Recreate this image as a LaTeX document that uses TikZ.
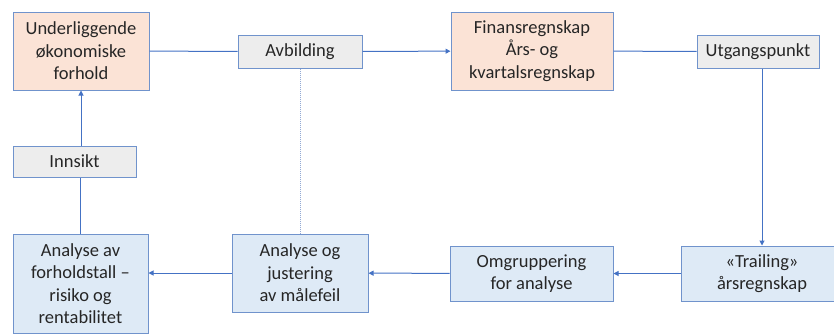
\documentclass[tikz,border=0pt]{standalone}
\usepackage{fontspec}
\setmainfont{Carlito}
\usetikzlibrary{arrows.meta}
\definecolor{lineblue}{HTML}{4472C4}
\definecolor{boxline}{HTML}{7093CC}
\definecolor{orfill}{HTML}{FBE3D6}
\definecolor{grfill}{HTML}{EDEDED}
\definecolor{blfill}{HTML}{DEEAF6}
\definecolor{dotblue}{HTML}{93AAD4}

\begin{document}
\begin{tikzpicture}[x=1pt, y=-1pt,
	every node/.style={draw=boxline, line width=1pt, align=center, inner sep=0pt, text=black!85, font=\fontsize{18.5}{22.5}\selectfont},
	orbox/.style={fill=orfill},
	grbox/.style={fill=grfill},
	blbox/.style={fill=blfill},
	conn/.style={draw=lineblue, line width=1pt},
	arr/.style={conn, -{Triangle[length=5pt, width=5pt]}},
	dotline/.style={draw=dotblue, line width=1pt, densely dotted}]
	\useasboundingbox (0,0) rectangle (834,333);
	
	\node[orbox, minimum width=136pt, minimum height=78pt] (under) at (81,51) {Underliggende\\økonomiske\\forhold};
	\node[grbox, minimum width=124pt, minimum height=33pt] (avb) at (300,51.5) {Avbilding};
	\node[orbox, minimum width=162pt, minimum height=78pt] (fin) at (532,51) {Finansregnskap\\Års- og\\kvartalsregnskap};
	\node[grbox, minimum width=122pt, minimum height=33pt] (utg) at (758,51.5) {Utgangspunkt};
	\node[grbox, minimum width=123pt, minimum height=31pt] (ins) at (74.5,161.5) {Innsikt};
	
	\node[blbox, minimum width=135pt, minimum height=99pt] (ana1) at (80.5,283.5) {Analyse av\\forholdstall --\\risiko og\\rentabilitet};
	\node[blbox, minimum width=136pt, minimum height=78pt] (ana2) at (300,273) {Analyse og\\justering\\av målefeil};
	\node[blbox, minimum width=163pt, minimum height=55pt] (omg) at (531.5,273.5) {Omgruppering\\for analyse};
	\node[blbox, minimum width=162pt, minimum height=55pt] (trail) at (762,273.5) {«Trailing»\\årsregnskap};
	
	\path (under) edge[conn] (avb);
	\path (avb) edge[arr] (fin);
	\path (fin) edge[conn] (utg);
	\path (utg.south -| trail) edge[arr] (trail);
	\path (trail) edge[arr] (omg);
	\path (omg) edge[arr] (ana2);
	\path (ana2.west) edge[arr] (ana2.west -| ana1.east);
	\path (ana1.north) edge[conn] (ana1.north |- ins.south);
	\path (ins.north -| under) edge[arr] (under);
	\path (avb) edge[dotline] (ana2);
\end{tikzpicture}
\end{document}
